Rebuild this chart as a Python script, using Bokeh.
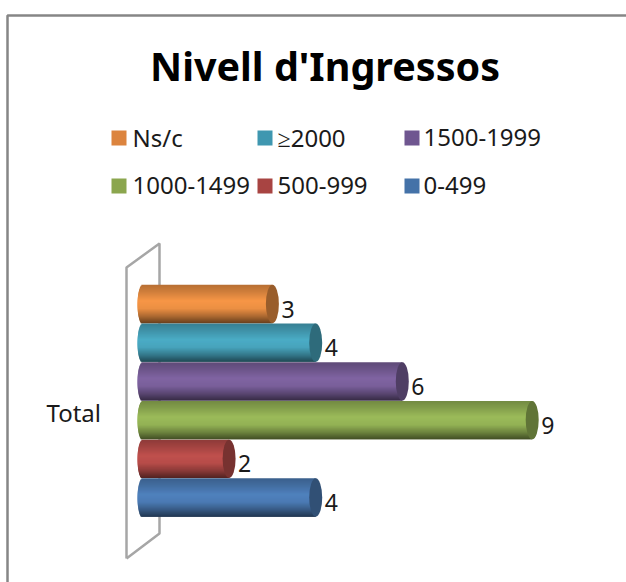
from bokeh.plotting import figure
from bokeh.models import Range1d, ColumnDataSource
from bokeh.core.properties import value
from bokeh.embed import file_html
from bokeh.resources import INLINE

title_text = "Nivell d'Ingressos"
category_label = "Total"
series_names = ["0-499", "500-999", "1000-1499", "1500-1999", "≥2000", "Ns/c"]
series_values = [4, 2, 9, 6, 4, 3]
series_colors = ["#4f81bd", "#c0504d", "#9bbb59", "#8064a2", "#4bacc6", "#f79646"]
swatch_colors = ["#4472a8", "#a84442", "#8ba64e", "#6f5690", "#3f97b0", "#dc843e"]
legend_rows = [["Ns/c", "≥2000", "1500-1999"], ["1000-1499", "500-999", "0-499"]]

W, H = 626, 582
ORG = 0                     # page px where the figure starts
X0, UNIT = 142.0, 43.3      # reference px of value 0, px per unit
Y0, STEP = 497.0, 38.7      # reference px of first bar, px per bar
FONT = "Noto Sans"

def xd(px): return (px - X0) / UNIT
def yd(py): return (Y0 - py) / STEP

p = figure(width=W, height=H, output_backend="svg", toolbar_location=None,
           x_range=Range1d(xd(ORG), xd(ORG + W)), y_range=Range1d(yd(ORG + H), yd(ORG)),
           min_border=0, min_border_left=0, min_border_right=0, min_border_top=0, min_border_bottom=0,
           outline_line_color=None, background_fill_color="white", border_fill_color="white")
p.axis.visible = False
p.grid.visible = False

def mix(c, k):
    r, g, b = int(c[1:3], 16), int(c[3:5], 16), int(c[5:7], 16)
    t = (255, 255, 255) if k > 1 else (0, 0, 0)
    a = k - 1 if k > 1 else 1 - k
    return "#%02x%02x%02x" % tuple(int(round(v + (w - v) * a)) for v, w in zip((r, g, b), t))

def shade(t):
    # t: 0 at the top of the cylinder, 1 at the bottom
    stops = [(0, 0.74), (0.18, 0.84), (0.42, 1.0), (0.62, 0.95), (0.82, 0.70), (1, 0.42)]
    for (a, ka), (b, kb) in zip(stops, stops[1:]):
        if t <= b:
            return ka + (kb - ka) * (t - a) / (b - a)
    return stops[-1][1]

# chart frame
p.line([xd(7), xd(7), xd(626)], [yd(582), yd(15), yd(15)], line_color="#868686", line_width=2.5)

# wall behind the bars
p.line([xd(v) for v in (126, 126, 159, 159, 126)],
       [yd(v) for v in (558, 267, 243, 533, 558)], line_color="#a6a6a6", line_width=2.5)

# cylinders: each strip overlaps the next so no background shows through
N = 38
BAR_H = 0.99
RX = 6.5 / UNIT
RX_LEFT = 5.0 / UNIT
for i in reversed(range(len(series_values))):
    v, c = series_values[i], series_colors[i]
    top = i + BAR_H / 2
    tops, bottoms, lefts, rights, cols = [], [], [], [], []
    for k in range(N):
        t0, t1 = k / N, min(1, (k + 2) / N)
        t = (k + 0.5) / N
        u = 2 * t - 1
        tops.append(top - BAR_H * t0)
        bottoms.append(top - BAR_H * t1)
        lefts.append(-RX_LEFT * (1 - u * u) ** 0.5)
        rights.append(v)
        cols.append(mix(c, shade(t)))
    src = ColumnDataSource(dict(top=tops, bottom=bottoms, left=lefts, right=rights, c=cols))
    p.quad(top="top", bottom="bottom", left="left", right="right", fill_color="c", fill_alpha=1,
           line_color=None, source=src)
    p.ellipse(x=[v], y=[i], width=[2 * RX], height=[BAR_H], fill_color=mix(c, 0.62), fill_alpha=1,
              line_color=None)

# data labels
p.text(x=series_values, y=list(range(len(series_values))), text=[str(v) for v in series_values],
       x_offset=9, y_offset=5, text_baseline="middle", text_align="left",
       text_font=value(FONT), text_font_size="23px", text_color="#1a1a1a")

# category label
p.text(x=[xd(46)], y=[yd(412)], text=[category_label], text_baseline="middle", text_align="left",
       text_font=value(FONT), text_font_size="24px", text_color="#1a1a1a")

# title
p.text(x=[xd(324.5)], y=[yd(65)], text=[title_text], text_baseline="middle", text_align="center",
       text_font=value(FONT), text_font_style="bold", text_font_size="39.5px", text_color="#000000")

# legend
swatch_px = [111, 257, 404]
text_px = [132, 277, 423]
row_px = [137.5, 185.5]
for r, row in enumerate(legend_rows):
    for cidx, name in enumerate(row):
        col = swatch_colors[series_names.index(name)]
        p.rect(x=[xd(swatch_px[cidx] + 7.5)], y=[yd(row_px[r])], width=[15 / UNIT], height=[15 / STEP],
               fill_color=col, fill_alpha=1, line_color=None)
        p.text(x=[xd(text_px[cidx])], y=[yd(row_px[r] - 1)], text=[name], text_baseline="middle",
               text_align="left", text_font=value(FONT), text_font_size="24px", text_color="#1a1a1a")

open("out.html", "w").write(file_html(p, INLINE))
